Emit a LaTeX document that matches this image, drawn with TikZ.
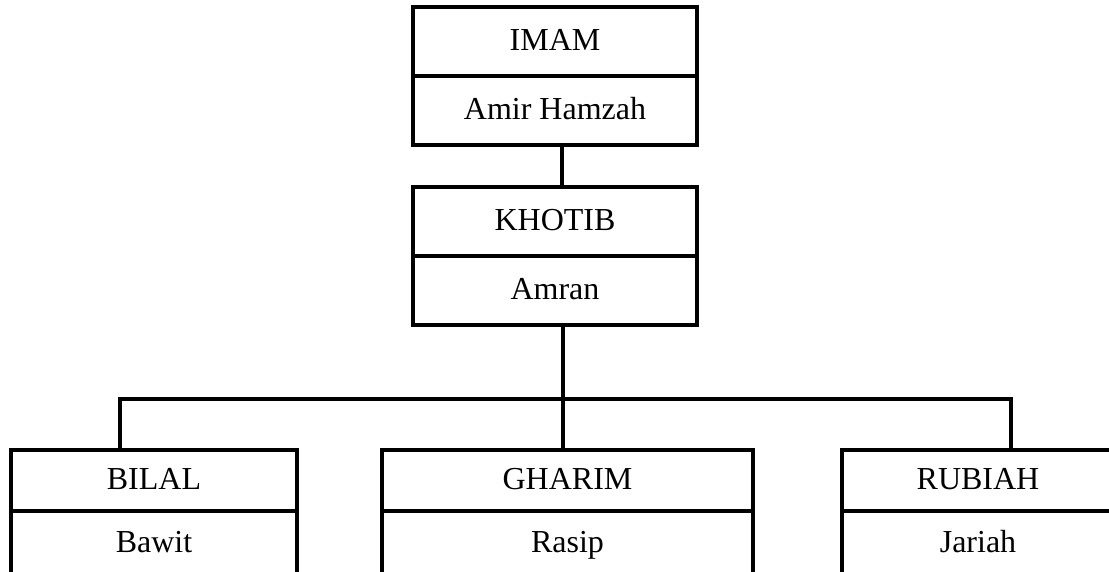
\documentclass[tikz,border=0pt]{standalone}
\usepackage{fontspec}
\setmainfont{Liberation Serif}
\begin{document}
\begin{tikzpicture}[x=1pt,y=-1pt,
  cell/.style={draw, line width=3.4pt, rectangle, inner sep=0pt, outer sep=0pt,
    anchor=north west, font=\fontsize{32}{36}\selectfont,
    text height=21pt, text depth=3pt},
  conn/.style={line width=3.4pt}]
\useasboundingbox (0,0) rectangle (1109,571);
\clip (0,0) rectangle (1109,571);
% top boxes
\node[cell, minimum width=284pt, minimum height=69pt] (imamT) at (413,7) {IMAM};
\node[cell, minimum width=284pt, minimum height=69pt] (imamB) at (413,76) {Amir Hamzah};
\node[cell, minimum width=284pt, minimum height=69pt] (khotibT) at (413,187) {KHOTIB};
\node[cell, minimum width=284pt, minimum height=69pt] (khotibB) at (413,256) {Amran};
% bottom boxes
\node[cell, minimum width=286pt, minimum height=61pt] (bilalT) at (11,450) {BILAL};
\node[cell, minimum width=286pt, minimum height=64pt] (bilalB) at (11,511) {Bawit};
\node[cell, minimum width=371pt, minimum height=61pt] (gharimT) at (382,450) {GHARIM};
\node[cell, minimum width=371pt, minimum height=64pt] (gharimB) at (382,511) {Rasip};
\node[cell, minimum width=272pt, minimum height=61pt] (rubiahT) at (842,450) {RUBIAH};
\node[cell, minimum width=272pt, minimum height=64pt] (rubiahB) at (842,511) {Jariah};
% connector guides
\coordinate (jx) at (562,0);
\coordinate (kx) at (563,0);
\coordinate (lx) at (120,0);
\coordinate (rx) at (1011,0);
\coordinate (bus) at (0,399);
\draw[conn] (imamB.south -| jx) -- (khotibT.north -| jx);
\draw[conn] (khotibB.south -| kx) -- (gharimT.north -| kx);
\draw[conn] (bilalT.north -| lx) |- (bus -| rx) -- (rubiahT.north -| rx);
\end{tikzpicture}
\end{document}
